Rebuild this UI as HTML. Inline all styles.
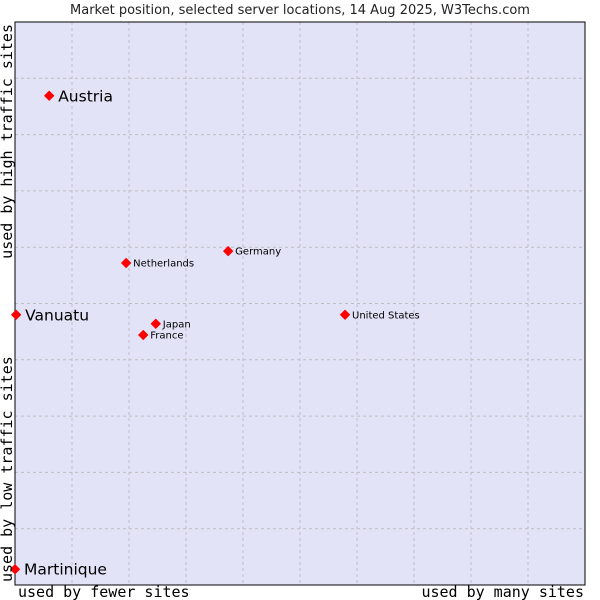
<!DOCTYPE html>
<html><head><meta charset="utf-8"><style>
html,body{margin:0;padding:0;background:#fff;}
svg{display:block;}
</style></head><body>
<svg id="chart" width="600" height="600" xmlns="http://www.w3.org/2000/svg">
<text x="300" y="14" text-anchor="middle" font-family="DejaVu Sans, Liberation Sans, sans-serif" font-size="13" fill="#222">Market position, selected server locations, 14 Aug 2025, W3Techs.com</text>
<rect x="15" y="22" width="570" height="563" fill="#e3e3f8"/>
<g id="grid"></g>
<rect x="15" y="22" width="570" height="563" fill="none" stroke="#000" stroke-width="1"/>
<g id="points"></g>
<text x="18" y="597" font-family="DejaVu Sans Mono, Liberation Mono, monospace" font-size="15" fill="#000">used by fewer sites</text>
<text x="584" y="597" text-anchor="end" font-family="DejaVu Sans Mono, Liberation Mono, monospace" font-size="15" fill="#000">used by many sites</text>
<text transform="translate(12,582) rotate(-90)" font-family="DejaVu Sans Mono, Liberation Mono, monospace" font-size="15" fill="#000">used by low traffic sites</text>
<text transform="translate(12,24) rotate(-90)" text-anchor="end" font-family="DejaVu Sans Mono, Liberation Mono, monospace" font-size="15" fill="#000">used by high traffic sites</text>
</svg>
<script>
const names = ["Austria","Vanuatu","Martinique","Netherlands","Germany","Japan","France","United States"];
const xValues = [6.0,0.2,0,19.5,37.4,24.7,22.5,57.9];
const yValues = [86.9,48.0,2.8,57.2,59.3,46.4,44.4,48.0];
const bigLabel = [true,true,true,false,false,false,false,false];
const NS="http://www.w3.org/2000/svg";
const L=15,T=22,W=570,H=563;
function sx(v){return L+v/100*W;}
function sy(v){return T+H-v/100*H;}
const grid=document.getElementById('grid');
for(let i=1;i<10;i++){
  const a=document.createElementNS(NS,'line');
  a.setAttribute('x1',sx(i*10));a.setAttribute('x2',sx(i*10));a.setAttribute('y1',T);a.setAttribute('y2',T+H);
  a.setAttribute('stroke','#bdbdc4');a.setAttribute('stroke-dasharray','3,3');
  
  
  grid.appendChild(a);
  const b=document.createElementNS(NS,'line');
  b.setAttribute('y1',sy(i*10));b.setAttribute('y2',sy(i*10));b.setAttribute('x1',L);b.setAttribute('x2',L+W);
  b.setAttribute('stroke','#bdbdc4');b.setAttribute('stroke-dasharray','3,3');
  
  
  grid.appendChild(b);
}
const pts=document.getElementById('points');
names.forEach((n,i)=>{
  const x=sx(xValues[i]),y=sy(yValues[i]);
  const d=document.createElementNS(NS,'path');
  d.setAttribute('d',`M${x-4.5},${y} L${x},${y-4.5} L${x+4.5},${y} L${x},${y+4.5} Z`);
  d.setAttribute('fill','#ff0000');
  d.setAttribute('stroke','#ff0000');d.setAttribute('stroke-linejoin','round');
  
  
  pts.appendChild(d);
  const t=document.createElementNS(NS,'text');
  const big=bigLabel[i];
  t.setAttribute('x',x+(big?9:7));t.setAttribute('y',y+(big?5.5:3.5));
  t.setAttribute('font-family','DejaVu Sans, Liberation Sans, sans-serif');
  t.setAttribute('font-size',big?15.5:10);
  t.setAttribute('fill','#000');
  t.textContent=n;
  
  
  pts.appendChild(t);
});
</script>
</body></html>
